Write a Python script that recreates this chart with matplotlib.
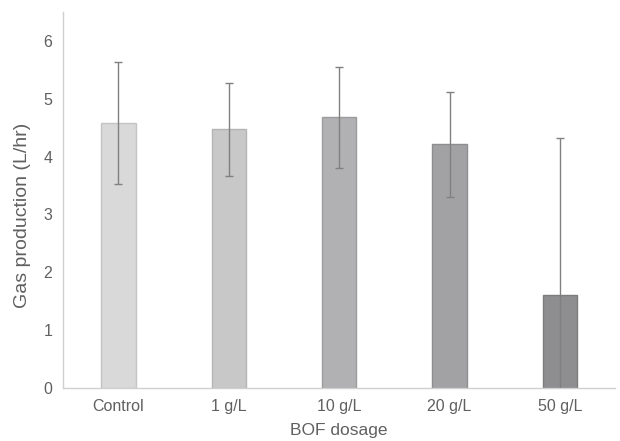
import matplotlib
matplotlib.use("Agg")
import matplotlib.pyplot as plt

categories = ["Control", "1 g/L", "10 g/L", "20 g/L", "50 g/L"]
gas_production = [4.58, 4.47, 4.68, 4.21, 1.60]
errors = [1.05, 0.80, 0.87, 0.91, 2.72]
bar_colors = ["#d9d9da", "#c8c8c9", "#b1b1b3", "#a2a2a4", "#8e8e90"]
edge_colors = ["#c4c4c5", "#b4b4b5", "#9c9c9e", "#8e8e90", "#7c7c7e"]

plt.rcParams["font.family"] = ["Liberation Sans", "DejaVu Sans"]

fig = plt.figure(figsize=(6.2, 4.41), dpi=100)
ax = fig.add_axes([0.102, 0.120, 0.890, 0.853])

x = range(len(categories))
ax.bar(x, gas_production, width=0.31, color=bar_colors, edgecolor=edge_colors,
       linewidth=1.0, zorder=2)
ax.errorbar(x, gas_production, yerr=errors, fmt="none", ecolor="#808080",
            elinewidth=1.0, capsize=3, capthick=1.0, zorder=3)

ax.set_xlim(-0.5, len(categories) - 0.5)
ax.set_ylim(0, 6.5)
ax.set_yticks(range(0, 7))
ax.set_xticks(list(x))
ax.set_xticklabels(categories)

for side in ["top", "right"]:
    ax.spines[side].set_visible(False)
for side in ["left", "bottom"]:
    ax.spines[side].set_color("#d0d0d0")
    ax.spines[side].set_linewidth(1.0)

ax.tick_params(length=0, labelsize=11.5, colors="#606060", pad=8)
ax.set_xlabel("BOF dosage", fontsize=12.5, color="#606060", labelpad=6)
ax.set_ylabel("Gas production (L/hr)", fontsize=14, color="#606060")
ax.yaxis.set_label_coords(-0.058, 0.46)

fig.savefig("out.png", dpi=100)
